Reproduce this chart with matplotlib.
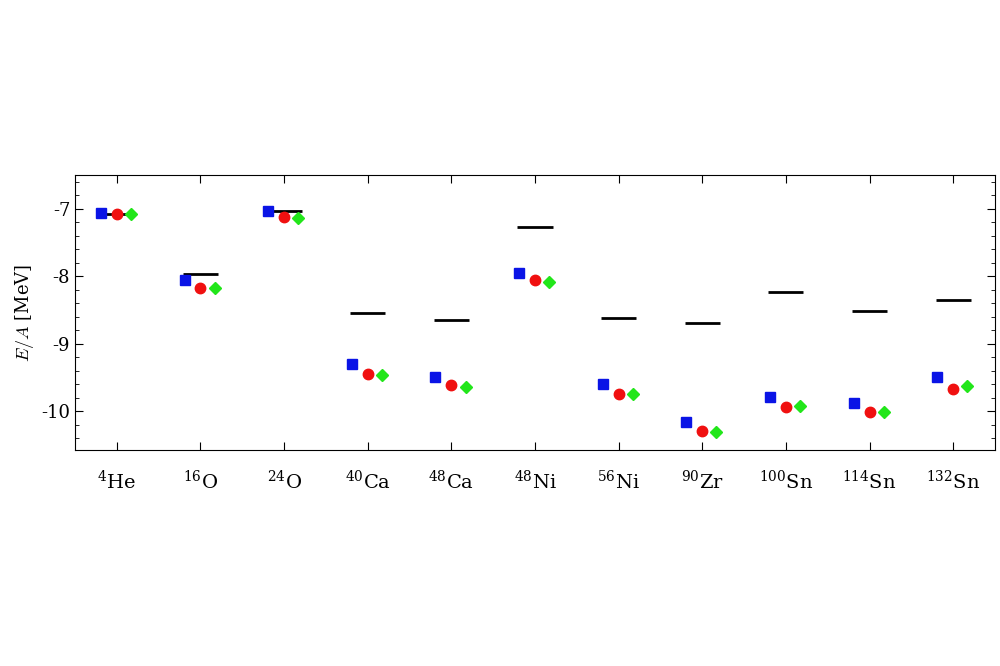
import matplotlib
matplotlib.use("Agg")
import matplotlib.pyplot as plt
import numpy as np
from matplotlib.ticker import AutoMinorLocator

plt.rcParams["mathtext.fontset"] = "cm"
plt.rcParams["font.family"] = "serif"
plt.rcParams["font.serif"] = ["DejaVu Serif"]

nuclei = [r"$\mathregular{^{4}}$He", r"$\mathregular{^{16}}$O", r"$\mathregular{^{24}}$O",
          r"$\mathregular{^{40}}$Ca", r"$\mathregular{^{48}}$Ca", r"$\mathregular{^{48}}$Ni",
          r"$\mathregular{^{56}}$Ni", r"$\mathregular{^{90}}$Zr", r"$\mathregular{^{100}}$Sn",
          r"$\mathregular{^{114}}$Sn", r"$\mathregular{^{132}}$Sn"]
experiment = [-7.07, -7.96, -7.03, -8.55, -8.65, -7.27, -8.62, -8.70, -8.24, -8.51, -8.35]
squares = [-7.06, -8.06, -7.03, -9.30, -9.50, -7.95, -9.60, -10.16, -9.79, -9.88, -9.50]
circles = [-7.07, -8.17, -7.12, -9.45, -9.61, -8.06, -9.74, -10.30, -9.94, -10.01, -9.67]
diamonds = [-7.07, -8.17, -7.13, -9.46, -9.64, -8.08, -9.75, -10.31, -9.93, -10.01, -9.63]

fig = plt.figure(figsize=(10, 6.66), dpi=100)
ax = fig.add_axes([0.075, 0.324, 0.92, 0.413])
x = np.arange(len(nuclei))
ax.hlines(experiment, x - 0.21, x + 0.21, color="black", lw=2, zorder=2)
ax.plot(x - 0.19, squares, "s", color="#0a14e6", ms=7.5, ls="none", zorder=3)
ax.plot(x, circles, "o", color="#f01010", ms=7.5, ls="none", zorder=3)
ax.plot(x + 0.17, diamonds, "D", color="#22e61a", ms=6, ls="none", zorder=3)

ax.set_xlim(-0.5, 10.5)
ax.set_ylim(-10.58, -6.5)
ax.set_xticks(x)
ax.set_xticklabels(nuclei, fontsize=14)
ax.set_yticks([-7, -8, -9, -10])
ax.set_yticklabels(["-7", "-8", "-9", "-10"], fontsize=13)
ax.yaxis.set_minor_locator(AutoMinorLocator(5))
ax.tick_params(direction="in", which="both", top=True, right=True)
ax.tick_params(which="major", length=6)
ax.tick_params(which="minor", length=3)
ax.tick_params(axis="x", which="major", length=6, pad=14)
ax.set_ylabel(r"$E/A$ [MeV]", fontsize=13)
fig.savefig("out.png", dpi=100)
